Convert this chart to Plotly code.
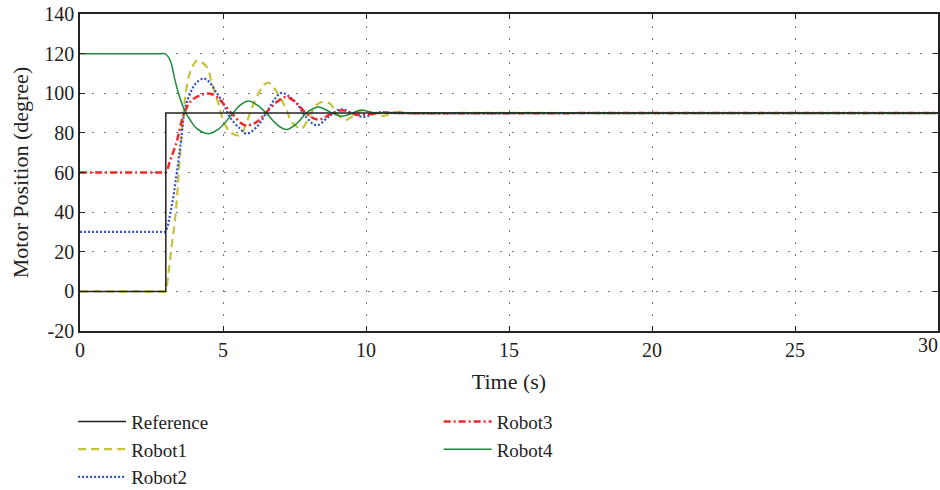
import plotly.graph_objects as go

# ---- data ----
ref_t = [0, 3.0, 3.0, 30]
ref_v = [0, 0, 90, 90]

r1_t = [0, 1.0, 2.0, 2.6, 2.85, 2.97, 3.09, 3.2, 3.32, 3.41, 3.5, 3.73, 3.9, 4.1, 4.43, 4.6, 4.84,
        5.01, 5.24, 5.59, 5.83, 6.0, 6.18, 6.41, 6.6, 6.76, 6.99, 7.23, 7.4, 7.75, 8.04, 8.33,
        8.55, 8.74, 9.03, 9.3, 9.85, 10.3, 10.6, 11.07, 11.6, 12.5, 20, 30]
r1_v = [0, 0, 0, 0, 0, 0, 8.9, 22.4, 35.9, 51, 69.5, 103, 112.5, 116.5, 113.3, 105.7, 94.8,
        86.4, 80.5, 78.8, 85.5, 92.3, 98.1, 104, 105.3, 103.2, 98.1, 91.4, 85.5, 82.2, 88.9, 94.8,
        95.6, 94.8, 88.9, 86.6, 91.4, 89.5, 88.6, 90.6, 89.8, 90, 90, 90]

r2_t = [0, 1.0, 2.0, 2.6, 2.85, 2.97, 3.2, 3.38, 3.53, 3.67, 3.85, 4.05, 4.31, 4.5, 4.72, 5.01,
        5.24, 5.59, 5.83, 6.18, 6.53, 6.82, 7.05, 7.3, 7.58, 7.9, 8.28, 8.68, 9.09, 9.56, 9.91,
        10.4, 11.0, 20, 30]
r2_v = [30, 30, 30, 30, 30, 30, 42.6, 59.4, 76, 92, 99.8, 105, 107.4, 106, 101.5, 94.8,
        88, 82.2, 79.6, 83, 90.6, 97.3, 100.2, 98.5, 94.8, 88, 83.8, 88, 91.8, 89.7, 88,
        90.3, 90, 90, 90]

r3_t = [0, 1.0, 2.0, 2.6, 2.88, 3.0, 3.15, 3.38, 3.6, 3.85, 4.2, 4.55, 4.8, 5.01, 5.36, 5.77,
        6.18, 6.53, 6.88, 7.2, 7.5, 7.95, 8.33, 8.74, 9.15, 9.67, 10.14, 10.6, 11.2, 20, 30]
r3_v = [60, 60, 60, 60, 60, 60, 66, 75.4, 88, 95.6, 99, 99.8, 98, 94.8, 88.9, 83.8,
        85.5, 90.6, 95.6, 98.1, 96, 89.3, 86.7, 89.2, 91.4, 89.2, 89.4, 90.2, 90, 90, 90]

r4_t = [0, 1.0, 2.0, 2.6, 2.85, 2.97, 3.15, 3.32, 3.5, 3.67, 3.85, 4.1, 4.49, 4.85, 5.24, 5.6,
        5.89, 6.2, 6.53, 6.9, 7.23, 7.6, 7.93, 8.33, 8.74, 9.15, 9.45, 9.79, 10.37, 11.0, 20, 30]
r4_v = [120, 120, 120, 120, 120, 120, 116.7, 106.6, 97.3, 91, 86.5, 82, 79.6, 82, 88, 94,
        96.1, 94, 89.7, 84, 81.7, 85, 90.2, 93.1, 90.6, 88.4, 89.5, 91.4, 90, 90, 90, 90]

x_ticks = [0, 5, 10, 15, 20, 25]
x_last_tick = [30]
y_ticks = [-20, 0, 20, 40, 60, 80, 100, 120, 140]
y_tick_labels = ["-20", "0", "20", "40", "60", "80", "100", "120", "140"]

FONT = "Liberation Serif"
TICK_FONT = dict(family=FONT, size=20, color="#222222")

fig = go.Figure()
fig.add_trace(go.Scatter(x=ref_t, y=ref_v, name="Reference", mode="lines", xaxis="x2",
                         line=dict(color="#222222", width=1.5), legend="legend"))
fig.add_trace(go.Scatter(x=r1_t, y=r1_v, name="Robot1", mode="lines",
                         line=dict(color="#c6c23a", width=2.2, dash="8px,5px",
                                   shape="spline", smoothing=1.0), legend="legend"))
fig.add_trace(go.Scatter(x=r2_t, y=r2_v, name="Robot2", mode="lines",
                         line=dict(color="#2f52c0", width=2.2, dash="2px,2px",
                                   shape="spline", smoothing=1.0), legend="legend"))
fig.add_trace(go.Scatter(x=r3_t, y=r3_v, name="Robot3", mode="lines",
                         line=dict(color="#f0282a", width=2.5, dash="7px,3px,2px,3px",
                                   shape="spline", smoothing=1.0), legend="legend2"))
fig.add_trace(go.Scatter(x=r4_t, y=r4_v, name="Robot4", mode="lines",
                         line=dict(color="#1f8a3c", width=1.5,
                                   shape="spline", smoothing=1.0), legend="legend2"))

axis_common = dict(
    showline=True, linecolor="#222222", linewidth=1.5, mirror="ticks",
    ticks="inside", ticklen=5, tickcolor="#222222", tickwidth=1,
    showgrid=True, gridcolor="#777777", gridwidth=1, griddash="2px,10px",
    zeroline=False, tickfont=TICK_FONT, automargin=False,
)

fig.update_layout(
    width=940, height=490,
    margin=dict(l=80, r=2, t=14, b=159, autoexpand=False),
    paper_bgcolor="white", plot_bgcolor="white",
    font=dict(family=FONT, size=20, color="#222222"),
    xaxis=dict(range=[0, 30], tickvals=x_ticks,
               title=dict(text="Time (s)", standoff=14, font=dict(family=FONT, size=22)),
               **axis_common),
    xaxis2=dict(range=[0, 30], overlaying="x", anchor="y", side="bottom",
                tickvals=x_last_tick, ticktext=["30"], ticklabelshift=-10,
                showgrid=False, showline=False, zeroline=False, ticks="",
                tickfont=TICK_FONT, automargin=False),
    yaxis=dict(range=[-20, 140], tickvals=y_ticks, ticktext=y_tick_labels,
               title=dict(text="Motor Position (degree)", standoff=10,
                          font=dict(family=FONT, size=22)),
               **axis_common),
    legend=dict(x=-0.008, y=-0.226, xanchor="left", yanchor="top", orientation="v",
                font=dict(family=FONT, size=19), bgcolor="rgba(0,0,0,0)", itemwidth=48),
    legend2=dict(x=0.418, y=-0.226, xanchor="left", yanchor="top", orientation="v",
                 font=dict(family=FONT, size=19), bgcolor="rgba(0,0,0,0)", itemwidth=48),
)

fig.write_html("out.html", config={"responsive": False, "displayModeBar": False},
               post_script="document.body.style.margin='0';document.body.style.padding='0';")
